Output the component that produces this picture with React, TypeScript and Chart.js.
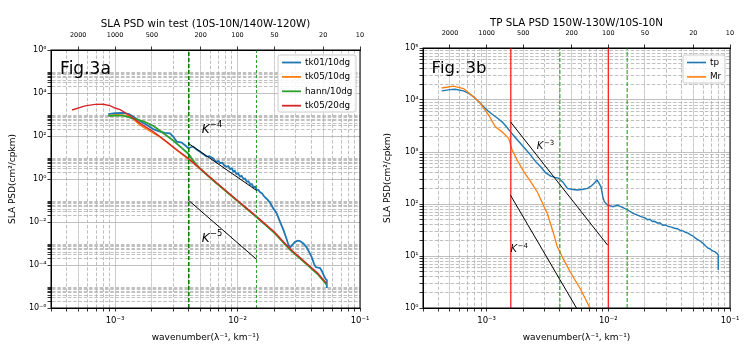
import React, { useEffect, useRef } from 'react';
import { Chart, registerables } from 'chart.js';

Chart.register(...registerables);

const FONT = "'DejaVu Sans', 'Liberation Sans', sans-serif";

// ---------- shared axis data ----------
const X_MIN = 3e-4;
const X_MAX = 0.1;
const WAVELENGTHS = [2000, 1000, 500, 200, 100, 50, 20, 10]; // top axis labels (km)

// ---------- Fig.3a data ----------
const A_Y_MIN = 1e-6;
const A_Y_MAX = 1e6;
const A_TK01: [number, number][] = [
  [8.8e-4, 1050], [1.0e-3, 1150], [1.17e-3, 1200], [1.3e-3, 1050], [1.41e-3, 790], [1.6e-3, 480],
  [1.82e-3, 324], [2.05e-3, 210], [2.33e-3, 158], [2.55e-3, 140], [2.81e-3, 134], [3.0e-3, 90],
  [3.19e-3, 55], [3.5e-3, 49], [3.75e-3, 36], [3.96e-3, 27], [4.15e-3, 30], [4.35e-3, 32],
  [4.6e-3, 24], [4.94e-3, 18.6], [5.2e-3, 15], [5.6e-3, 11], [5.9e-3, 11.5], [6.34e-3, 9.1],
  [6.7e-3, 6.2], [7.0e-3, 6.8], [7.2e-3, 5.4], [7.5e-3, 5.8], [7.8e-3, 4.2], [8.16e-3, 3.7],
  [8.4e-3, 4.0], [8.7e-3, 2.9], [9.0e-3, 3.1], [9.24e-3, 2.2], [9.5e-3, 2.4], [9.8e-3, 1.7],
  [1.01e-2, 1.85], [1.047e-2, 1.3], [1.08e-2, 1.4], [1.12e-2, 1.0], [1.15e-2, 1.05], [1.19e-2, 0.74],
  [1.23e-2, 0.78], [1.27e-2, 0.55], [1.31e-2, 0.58], [1.35e-2, 0.42], [1.39e-2, 0.44], [1.435e-2, 0.31],
  [1.48e-2, 0.31], [1.53e-2, 0.24], [1.58e-2, 0.22], [1.63e-2, 0.17], [1.7e-2, 0.13], [1.76e-2, 0.11],
  [1.84e-2, 0.08], [1.95e-2, 0.045], [2.09e-2, 0.025], [2.2e-2, 0.012], [2.37e-2, 4.3e-3], [2.5e-2, 1.8e-3],
  [2.6e-2, 9e-4], [2.69e-2, 6.5e-4], [2.82e-2, 9e-4], [2.95e-2, 1.2e-3], [3.1e-2, 1.35e-3], [3.24e-2, 1.3e-3],
  [3.45e-2, 1.0e-3], [3.67e-2, 6.5e-4], [3.85e-2, 4.0e-4], [4.04e-2, 2.3e-4], [4.2e-2, 1.2e-4], [4.35e-2, 8e-5],
  [4.55e-2, 7.5e-5], [4.72e-2, 7.2e-5], [4.9e-2, 5e-5], [5.08e-2, 3.1e-5], [5.25e-2, 2.2e-5], [5.35e-2, 2.0e-5],
  [5.36e-2, 8.5e-6],
];
const A_TK05_10: [number, number][] = [
  [8.8e-4, 870], [1.0e-3, 950], [1.1e-3, 960], [1.32e-3, 850], [1.6e-3, 324], [1.93e-3, 170],
  [2.3e-3, 95], [2.64e-3, 52], [3.29e-3, 19], [3.96e-3, 8.7], [5e-3, 2.8], [6.34e-3, 0.85],
  [1.0e-2, 0.095], [1.435e-2, 1.7e-2], [2e-2, 3.2e-3], [2.69e-2, 5.3e-4], [3.5e-2, 1.4e-4],
  [4.5e-2, 4e-5], [5.18e-2, 1.6e-5], [5.3e-2, 1.35e-5],
];
const A_HANN_10: [number, number][] = [
  [8.8e-4, 870], [1.0e-3, 900], [1.17e-3, 880], [1.35e-3, 700], [1.5e-3, 590], [1.72e-3, 470],
  [2.06e-3, 290], [2.5e-3, 130], [3e-3, 60], [3.5e-3, 28], [3.96e-3, 15], [4.5e-3, 5.5],
  [5e-3, 2.9], [6.34e-3, 0.85], [1e-2, 0.093], [1.435e-2, 1.65e-2], [2e-2, 3.1e-3], [2.69e-2, 5.1e-4],
  [3.5e-2, 1.35e-4], [4.5e-2, 3.8e-5], [5.18e-2, 1.5e-5], [5.3e-2, 1.25e-5],
];
const A_TK05_20: [number, number][] = [
  [4.46e-4, 1620], [5.69e-4, 2510], [6.87e-4, 2950], [8e-4, 3000], [9.1e-4, 2600], [1.0e-3, 2000],
  [1.1e-3, 1700], [1.3e-3, 950], [1.6e-3, 389], [2.06e-3, 158], [2.64e-3, 54], [3.29e-3, 20],
  [3.96e-3, 9.1], [5e-3, 2.9], [6.34e-3, 0.89], [1e-2, 0.1], [1.435e-2, 1.78e-2], [2e-2, 3.4e-3],
  [2.69e-2, 5.5e-4], [3.5e-2, 1.5e-4], [4.5e-2, 4.2e-5], [5.18e-2, 1.66e-5], [5.3e-2, 1.4e-5],
];
const A_K4: [number, number][] = [[3.96e-3, 46], [1.435e-2, 0.29]];
const A_K5: [number, number][] = [[3.96e-3, 0.105], [1.435e-2, 1.8e-4]];
const A_VLINE_1 = 0.004;
const A_VLINE_2 = 1 / 70;

// ---------- Fig.3b data ----------
const B_Y_MIN = 1;
const B_Y_MAX = 1e5;
const B_TP: [number, number][] = [
  [4.27e-4, 1.5e4], [5.0e-4, 1.58e4], [5.5e-4, 1.61e4], [6.46e-4, 1.5e4], [7.2e-4, 1.32e4], [7.81e-4, 1.15e4],
  [8.6e-4, 9.4e3], [9.44e-4, 7.4e3], [1.04e-3, 6.0e3], [1.14e-3, 5.1e3], [1.24e-3, 4.4e3], [1.34e-3, 3.8e3],
  [1.45e-3, 3.1e3], [1.57e-3, 2.44e3], [1.72e-3, 1.9e3], [1.9e-3, 1.46e3], [2.1e-3, 1.12e3], [2.3e-3, 871],
  [2.52e-3, 660], [2.78e-3, 520], [3.05e-3, 400], [3.36e-3, 344], [3.65e-3, 325], [3.94e-3, 311],
  [4.25e-3, 260], [4.61e-3, 200], [5.1e-3, 190], [5.57e-3, 186], [6.1e-3, 190], [6.74e-3, 200],
  [7.2e-3, 220], [7.66e-3, 250], [8.07e-3, 289], [8.4e-3, 250], [8.71e-3, 214], [9.0e-3, 140],
  [9.27e-3, 111], [9.86e-3, 95.5], [1.04e-2, 92], [1.09e-2, 88.7], [1.14e-2, 92], [1.19e-2, 95.5],
  [1.25e-2, 90], [1.32e-2, 85], [1.445e-2, 76.7], [1.6e-2, 66], [1.72e-2, 62], [1.86e-2, 57],
  [2.0e-2, 54], [2.1e-2, 50], [2.2e-2, 51], [2.3e-2, 46], [2.4e-2, 46.5], [2.55e-2, 42.7],
  [2.65e-2, 43.5], [2.8e-2, 39], [2.95e-2, 39.5], [3.1e-2, 37], [3.3e-2, 36], [3.51e-2, 34.2],
  [3.7e-2, 33.5], [3.9e-2, 31], [4.1e-2, 30.5], [4.3e-2, 28.5], [4.52e-2, 27.5], [4.75e-2, 25.5],
  [5.0e-2, 24], [5.2e-2, 22], [5.47e-2, 20.4], [5.75e-2, 19], [6.0e-2, 17.5], [6.3e-2, 15.5],
  [6.62e-2, 14.1], [6.9e-2, 13.5], [7.2e-2, 12.5], [7.5e-2, 12.2], [7.7e-2, 11.5], [7.9e-2, 11],
  [8.0e-2, 10.5], [8.01e-2, 5.4],
];
const B_MR: [number, number][] = [
  [4.27e-4, 1.7e4], [5.34e-4, 1.84e4], [6.46e-4, 1.66e4], [7.81e-4, 1.15e4], [8.87e-4, 8.6e3],
  [1.04e-3, 5.1e3], [1.18e-3, 3.05e3], [1.34e-3, 2.44e3], [1.52e-3, 1.82e3], [1.62e-3, 1.09e3],
  [1.78e-3, 700], [2.02e-3, 420], [2.3e-3, 270], [2.61e-3, 170], [3.15e-3, 66], [3.5e-3, 30],
  [3.81e-3, 15], [4.3e-3, 8.5], [4.92e-3, 4.7], [5.94e-3, 2.24], [6.97e-3, 1.07], [7.38e-3, 0.85],
];
const B_K3: [number, number][] = [[1.57e-3, 3.8e3], [9.86e-3, 16.2]];
const B_K4: [number, number][] = [[1.57e-3, 148], [1.0e-2, 0.09]];
const B_RED_1 = 1.58e-3;
const B_RED_2 = 1e-2;
const B_GREEN_1 = 0.004;
const B_GREEN_2 = 1 / 70;

// ---------- helpers ----------
const SUP: Record<string, string> = {
  '-': '⁻', '0': '⁰', '1': '¹', '2': '²', '3': '³', '4': '⁴', '5': '⁵', '6': '⁶', '7': '⁷', '8': '⁸', '9': '⁹',
};
const isPow10 = (v: number) => {
  const e = Math.log10(v);
  return Math.abs(e - Math.round(e)) < 1e-6;
};
const pow10Label = (v: number) => {
  if (!isPow10(v)) return '';
  const r = Math.round(Math.log10(v));
  return '10' + String(r).split('').map((c) => SUP[c]).join('');
};
function logTicks(e0: number, e1: number, step: number, lo: number, hi: number): number[] {
  const out: number[] = [];
  for (let e = e0; e <= e1; e += step) {
    for (let k = 1; k <= 9; k++) {
      const v = k * Math.pow(10, e);
      if (v >= lo * (1 - 1e-9) && v <= hi * (1 + 1e-9)) out.push(v);
    }
  }
  return out;
}
const X_TICKS = logTicks(-4, -1, 1, X_MIN, X_MAX);

interface Series { data: [number, number][]; color: string; width: number; dash?: number[] }
interface Note { x: number; y: number; text: string; sup?: string; size: number; italic?: boolean }
interface LegendItem { label: string; color: string; width: number }
interface PanelCfg {
  left: number; width: number; padRight: number;
  yAxisWidth: number; topHeight: number; bottomHeight: number;
  yMin: number; yMax: number; yTicks: number[];
  title: string; titlePadTop: number; topTickPad: number;
  series: Series[]; notes: Note[];
  legend: LegendItem[]; legendRight: number; legendTop: number; legendW: number; legendH: number;
}

const vline = (x: number, y0: number, y1: number): [number, number][] => [[x, y0], [x, y1]];

const PANEL_A: PanelCfg = {
  left: 0, width: 375, padRight: 15, yAxisWidth: 51, topHeight: 50, bottomHeight: 51,
  yMin: A_Y_MIN, yMax: A_Y_MAX, yTicks: logTicks(-6, 6, 2, A_Y_MIN, A_Y_MAX),
  title: 'SLA PSD win test (10S-10N/140W-120W)', titlePadTop: 18.5, topTickPad: 7,
  series: [
    { data: A_K4, color: '#000000', width: 1 },
    { data: A_K5, color: '#000000', width: 1 },
    { data: vline(A_VLINE_1, A_Y_MIN, A_Y_MAX), color: '#008000', width: 1.6, dash: [4, 2] },
    { data: vline(A_VLINE_2, A_Y_MIN, A_Y_MAX), color: '#2ca02c', width: 1, dash: [3, 2] },
    { data: A_TK05_20, color: '#d62728', width: 1.4 },
    { data: A_HANN_10, color: '#2ca02c', width: 1.8 },
    { data: A_TK05_10, color: '#ff7f0e', width: 1.5 },
    { data: A_TK01, color: '#1f77b4', width: 1.8 },
  ],
  notes: [
    { x: 3.56e-4, y: 1.18e5, text: 'Fig.3a', size: 17 },
    { x: 5.1e-3, y: 190, text: 'K', sup: '−4', size: 12, italic: true },
    { x: 5.1e-3, y: 1.7e-3, text: 'K', sup: '−5', size: 12, italic: true },
  ],
  legend: [
    { label: 'tk01/10dg', color: '#1f77b4', width: 1.8 },
    { label: 'tk05/10dg', color: '#ff7f0e', width: 1.8 },
    { label: 'hann/10dg', color: '#2ca02c', width: 1.8 },
    { label: 'tk05/20dg', color: '#d62728', width: 1.8 },
  ],
  legendRight: 4, legendTop: 5, legendW: 78, legendH: 57,
};

const PANEL_B: PanelCfg = {
  left: 375, width: 380, padRight: 25, yAxisWidth: 48, topHeight: 48, bottomHeight: 51,
  yMin: B_Y_MIN, yMax: B_Y_MAX, yTicks: logTicks(0, 5, 1, B_Y_MIN, B_Y_MAX),
  title: 'TP SLA PSD 150W-130W/10S-10N', titlePadTop: 17, topTickPad: 7.5,
  series: [
    { data: B_K3, color: '#000000', width: 1 },
    { data: B_K4, color: '#000000', width: 1 },
    { data: vline(B_RED_1, B_Y_MIN, B_Y_MAX), color: '#ff2020', width: 1.3 },
    { data: vline(B_RED_2, B_Y_MIN, B_Y_MAX), color: '#ff2020', width: 1.3 },
    { data: vline(B_GREEN_1, B_Y_MIN, B_Y_MAX), color: '#2ca02c', width: 1.1, dash: [4, 2] },
    { data: vline(B_GREEN_2, B_Y_MIN, B_Y_MAX), color: '#2ca02c', width: 1.1, dash: [4, 2] },
    { data: B_MR, color: '#ff7f0e', width: 1.3 },
    { data: B_TP, color: '#1f77b4', width: 1.4 },
  ],
  notes: [
    { x: 3.53e-4, y: 4.0e4, text: 'Fig. 3b', size: 16.5 },
    { x: 2.58e-3, y: 1.26e3, text: 'K', sup: '−3', size: 10, italic: true },
    { x: 1.57e-3, y: 13.1, text: 'K', sup: '−4', size: 10, italic: true },
  ],
  legend: [
    { label: 'tp', color: '#1f77b4', width: 1.6 },
    { label: 'Mr', color: '#ff7f0e', width: 1.6 },
  ],
  legendRight: 5, legendTop: 7, legendW: 42, legendH: 28,
};

function makeOverlay(p: PanelCfg) {
  return {
    id: 'psdOverlay',
    afterDatasetsDraw(chart: any) {
      const { ctx, chartArea: a, scales } = chart;
      ctx.save();
      // axes frame
      ctx.strokeStyle = '#000';
      ctx.lineWidth = 1;
      ctx.setLineDash([]);
      ctx.strokeRect(a.left, a.top, a.right - a.left, a.bottom - a.top);
      // annotations
      ctx.fillStyle = '#000';
      ctx.textBaseline = 'middle';
      ctx.textAlign = 'left';
      for (const n of p.notes) {
        const x = scales.x.getPixelForValue(n.x);
        const y = scales.y.getPixelForValue(n.y);
        ctx.font = `${n.italic ? 'italic ' : ''}${n.size}px ${FONT}`;
        ctx.fillText(n.text, x, y);
        if (n.sup) {
          const w = ctx.measureText(n.text).width;
          ctx.font = `${n.size * 0.7}px ${FONT}`;
          ctx.fillText(n.sup, x + w + 0.5, y - n.size * 0.4);
        }
      }
      // legend
      const bx = a.right - p.legendRight - p.legendW;
      const by = a.top + p.legendTop;
      ctx.beginPath();
      const r = 2;
      ctx.moveTo(bx + r, by);
      ctx.lineTo(bx + p.legendW - r, by);
      ctx.quadraticCurveTo(bx + p.legendW, by, bx + p.legendW, by + r);
      ctx.lineTo(bx + p.legendW, by + p.legendH - r);
      ctx.quadraticCurveTo(bx + p.legendW, by + p.legendH, bx + p.legendW - r, by + p.legendH);
      ctx.lineTo(bx + r, by + p.legendH);
      ctx.quadraticCurveTo(bx, by + p.legendH, bx, by + p.legendH - r);
      ctx.lineTo(bx, by + r);
      ctx.quadraticCurveTo(bx, by, bx + r, by);
      ctx.closePath();
      ctx.fillStyle = 'rgba(255,255,255,0.85)';
      ctx.fill();
      ctx.strokeStyle = '#cccccc';
      ctx.lineWidth = 1;
      ctx.stroke();
      ctx.font = `8.8px ${FONT}`;
      p.legend.forEach((it, i) => {
        const yy = by + 7.5 + i * 14.4;
        ctx.strokeStyle = it.color;
        ctx.lineWidth = it.width;
        ctx.beginPath();
        ctx.moveTo(bx + 4, yy);
        ctx.lineTo(bx + 23, yy);
        ctx.stroke();
        ctx.fillStyle = '#000';
        ctx.fillText(it.label, bx + 27, yy);
      });
      ctx.restore();
    },
  };
}

function buildConfig(p: PanelCfg): any {
  const datasets = p.series.map((s) => ({
    data: s.data.map(([x, y]) => ({ x, y })),
    borderColor: s.color,
    borderWidth: s.width,
    borderDash: s.dash || [],
    pointRadius: 0,
    fill: false,
    tension: 0,
  }));
  const dashFor = (c: any) => (c && c.tick && !isPow10(c.tick.value) ? [3.5, 1.8] : []);
  return {
    type: 'line',
    data: { datasets },
    options: {
      animation: false,
      responsive: false,
      maintainAspectRatio: false,
      events: [],
      layout: { padding: { left: 0, right: p.padRight, top: 0, bottom: 0 } },
      plugins: { legend: { display: false }, tooltip: { enabled: false }, title: { display: false } },
      scales: {
        x: {
          type: 'logarithmic', position: 'bottom', min: X_MIN, max: X_MAX,
          afterBuildTicks: (s: any) => { s.ticks = X_TICKS.map((v) => ({ value: v })); },
          afterFit: (s: any) => { s.height = p.bottomHeight; },
          ticks: {
            autoSkip: false, maxRotation: 0, minRotation: 0, padding: 4, color: '#000',
            font: { family: FONT, size: 8.5 },
            callback: (v: any) => pow10Label(Number(v)),
          },
          grid: {
            color: '#b0b0b0', lineWidth: 0.8, tickLength: 3.5, tickColor: '#000', tickWidth: 0.8,
            tickBorderDash: [],
          },
          border: { display: true, color: '#000', width: 1, dash: dashFor },
          title: {
            display: true, text: 'wavenumber(λ⁻¹, km⁻¹)', color: '#000',
            font: { family: FONT, size: 9 }, padding: { top: 0, bottom: 15.6 },
          },
        },
        x2: {
          type: 'logarithmic', position: 'top', min: X_MIN, max: X_MAX,
          afterBuildTicks: (s: any) => { s.ticks = WAVELENGTHS.map((w) => ({ value: 1 / w })); },
          afterFit: (s: any) => { s.height = p.topHeight; },
          ticks: {
            autoSkip: false, maxRotation: 0, minRotation: 0, padding: p.topTickPad, color: '#000',
            font: { family: FONT, size: 6.5 },
            callback: (v: any) => String(Math.round(1 / Number(v))),
          },
          grid: {
            color: '#cfcfcf', lineWidth: 0.8, tickLength: 3.5, tickColor: '#000', tickWidth: 0.8,
            tickBorderDash: [],
          },
          border: { display: true, color: '#000', width: 1 },
          title: {
            display: true, text: p.title, color: '#000',
            font: { family: FONT, size: 10.3 }, padding: { top: p.titlePadTop, bottom: 0 },
          },
        },
        y: {
          type: 'logarithmic', position: 'left', min: p.yMin, max: p.yMax,
          afterBuildTicks: (s: any) => { s.ticks = p.yTicks.map((v) => ({ value: v })); },
          afterFit: (s: any) => { s.width = p.yAxisWidth; },
          ticks: {
            autoSkip: false, padding: 1, color: '#000',
            font: { family: FONT, size: 8 },
            callback: (v: any) => pow10Label(Number(v)),
          },
          grid: {
            color: '#b0b0b0', lineWidth: 0.8, tickLength: 3.5, tickColor: '#000', tickWidth: 0.8,
            tickBorderDash: [],
          },
          border: { display: true, color: '#000', width: 1, dash: dashFor },
          title: {
            display: true, text: 'SLA PSD(cm²/cpkm)', color: '#000',
            font: { family: FONT, size: 9 }, padding: { top: 7.6, bottom: 0 },
          },
        },
      },
    },
    plugins: [makeOverlay(p)],
  };
}

function Panel({ p }: { p: PanelCfg }) {
  const ref = useRef<HTMLCanvasElement>(null);
  useEffect(() => {
    if (!ref.current) return;
    const chart = new Chart(ref.current, buildConfig(p));
    return () => chart.destroy();
  }, []);
  return (
    <div style={{ position: 'absolute', left: p.left, top: 0, width: p.width, height: 359 }}>
      <canvas ref={ref} width={p.width} height={359} style={{ display: 'block', width: p.width, height: 359 }} />
    </div>
  );
}

export default function App() {
  return (
    <div style={{ position: 'absolute', left: 0, top: 0, width: 755, height: 359, background: '#fff' }}>
      <Panel p={PANEL_A} />
      <Panel p={PANEL_B} />
    </div>
  );
}
